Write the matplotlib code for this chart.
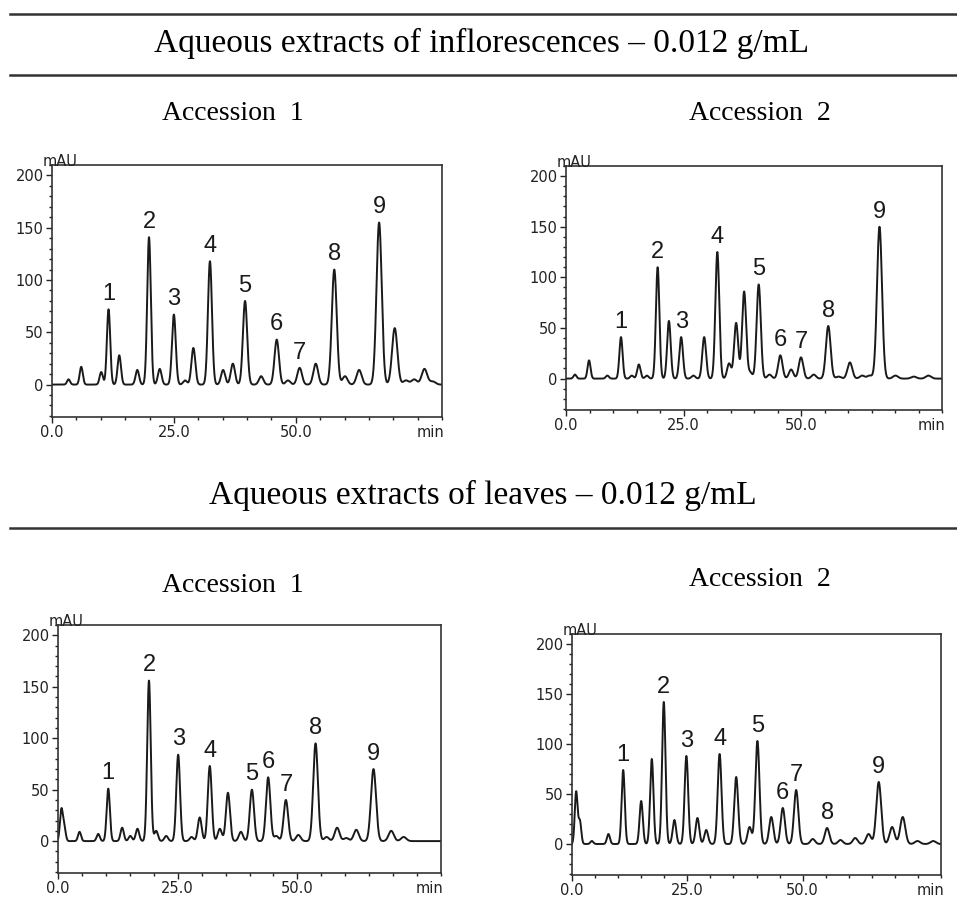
import numpy as np
import matplotlib
matplotlib.use("Agg")
import matplotlib.pyplot as plt
from matplotlib.lines import Line2D
from matplotlib.ticker import MultipleLocator, FixedLocator

# retention time (min) and height (mAU) of the numbered peaks 1..9, and of the other peaks
inflo_acc1_main_t = [11.6, 19.9, 25.0, 32.4, 39.6, 46.1, 50.8, 57.9, 67.1]
inflo_acc1_main_h = [72, 141, 67, 118, 80, 43, 16, 110, 155]
inflo_acc1_minor_t = [3.4, 6.0, 10.1, 13.8, 17.5, 22.1, 27.3, 29.0, 35.1, 37.1, 42.9,
                      48.4, 54.1, 60.1, 63.0, 70.3, 72.6, 74.3, 76.4, 78.1]
inflo_acc1_minor_h = [5, 17, 12, 28, 14, 15, 4, 35, 14, 20, 8, 4, 20, 8, 14, 54, 4, 5, 15, 3]

inflo_acc2_main_t = [11.7, 19.5, 24.5, 32.2, 41.0, 45.6, 50.0, 55.8, 66.7]
inflo_acc2_main_h = [41, 110, 41, 125, 93, 23, 21, 52, 150]
inflo_acc2_minor_t = [1.9, 4.9, 8.8, 14.0, 15.5, 17.2, 21.9, 27.1, 29.4, 34.7, 36.2, 37.9,
                      39.2, 43.3, 47.9, 52.7, 58.0, 60.4, 63.0, 64.6, 70.1, 74.0, 77.1]
inflo_acc2_minor_h = [4, 18, 3, 3, 14, 3, 57, 3, 41, 15, 55, 86, 6, 4, 9, 4, 2, 16, 3, 3, 3, 2, 3]

leaf_acc1_main_t = [10.5, 19.0, 25.1, 31.7, 40.5, 43.9, 47.6, 53.8, 65.9]
leaf_acc1_main_h = [51, 156, 84, 73, 50, 62, 40, 95, 70]
leaf_acc1_minor_t = [0.7, 1.3, 4.5, 8.4, 13.4, 15.1, 16.6, 20.5, 22.6, 27.9, 29.6, 33.8,
                     35.5, 38.2, 45.6, 50.2, 56.1, 58.3, 60.2, 62.3, 69.6, 72.2]
leaf_acc1_minor_h = [30, 13, 9, 7, 13, 5, 12, 10, 5, 4, 23, 12, 47, 9, 5, 6, 4, 13, 3, 11, 10, 4]

leaf_acc2_main_t = [11.1, 19.9, 24.8, 32.0, 40.2, 45.7, 48.6, 55.3, 66.5]
leaf_acc2_main_h = [74, 142, 88, 90, 103, 36, 54, 16, 62]
leaf_acc2_minor_t = [0.9, 1.7, 4.3, 7.9, 15.0, 17.3, 22.2, 27.2, 29.1, 35.6, 38.5, 43.2,
                     52.2, 58.2, 61.4, 64.3, 69.4, 71.7, 74.9, 78.3]
leaf_acc2_minor_h = [52, 23, 3, 10, 43, 85, 24, 26, 14, 67, 17, 27, 5, 4, 6, 10, 17, 27, 3, 3]

peak_labels = [str(i) for i in range(1, 10)]
x_tick_labels = ["0.0", "25.0", "50.0"]

W, H = 957, 924
fig = plt.figure(figsize=(W / 100, H / 100), dpi=100)


def rect(left, top, right, bottom):
    return [left / W, 1 - bottom / H, (right - left) / W, (bottom - top) / H]


def chromatogram(ax, main_t, main_h, minor_t, minor_h):
    t = np.linspace(0, 80, 5000)
    trace = np.zeros_like(t)
    for rt, h in zip(list(main_t) + list(minor_t), list(main_h) + list(minor_h)):
        sig = 0.3 + 0.0035 * rt  # peaks broaden a little with retention time
        trace += h * np.exp(-0.5 * ((t - rt) / sig) ** 2)
    ax.plot(t, trace, color="#1a1a1a", lw=1.4)

    for rt, h, lab in zip(main_t, main_h, peak_labels):
        ax.annotate(lab, xy=(rt, h), xytext=(0, 3), textcoords="offset points",
                    ha="center", va="bottom", fontsize=17, family="Liberation Sans",
                    color="#1a1a1a")

    ax.set_xlim(0, 80)
    ax.set_ylim(-31, 210)
    ax.xaxis.set_major_locator(FixedLocator([0, 25, 50]))
    ax.set_xticklabels(x_tick_labels)
    ax.xaxis.set_minor_locator(MultipleLocator(5))
    ax.yaxis.set_major_locator(FixedLocator([0, 50, 100, 150, 200]))
    ax.yaxis.set_minor_locator(MultipleLocator(10))
    ax.tick_params(which="both", direction="out", width=1, colors="#222222",
                   labelsize=10.5, pad=2)
    ax.tick_params(which="major", length=4)
    ax.tick_params(which="minor", length=2.5)
    for s in ax.spines.values():
        s.set_linewidth(1.2)
        s.set_color("#333333")
    ax.annotate("mAU", xy=(0, 1), xycoords="axes fraction", xytext=(-9, -1),
                textcoords="offset pixels", ha="left", va="baseline", fontsize=10.5,
                color="#222222")
    ax.annotate("min", xy=(77.7, 0), xycoords=("data", "axes fraction"), xytext=(0, -6),
                textcoords="offset points", ha="center", va="top", fontsize=10.5,
                color="#222222")


panels = [
    (rect(52, 165, 442, 417), inflo_acc1_main_t, inflo_acc1_main_h, inflo_acc1_minor_t, inflo_acc1_minor_h),
    (rect(566, 166, 942, 410), inflo_acc2_main_t, inflo_acc2_main_h, inflo_acc2_minor_t, inflo_acc2_minor_h),
    (rect(58, 625, 441, 873), leaf_acc1_main_t, leaf_acc1_main_h, leaf_acc1_minor_t, leaf_acc1_minor_h),
    (rect(572, 634, 941, 875), leaf_acc2_main_t, leaf_acc2_main_h, leaf_acc2_minor_t, leaf_acc2_minor_h),
]
for r, mt, mh, nt, nh in panels:
    ax = fig.add_axes(r)
    chromatogram(ax, mt, mh, nt, nh)

# table-like rules and headings
for y in [14, 75, 528]:
    fig.add_artist(Line2D([10 / W, 1], [1 - y / H, 1 - y / H], color="#333333", lw=1.8))

serif = "Liberation Serif"
fig.text(482 / W, 1 - 43 / H, "Aqueous extracts of inflorescences \u2013 0.012 g/mL",
         ha="center", va="center", fontsize=24, family=serif)
fig.text(483 / W, 1 - 495 / H, "Aqueous extracts of leaves \u2013 0.012 g/mL",
         ha="center", va="center", fontsize=24, family=serif)
fig.text(233 / W, 1 - 114 / H, "Accession  1", ha="center", va="center", fontsize=20, family=serif)
fig.text(760 / W, 1 - 114 / H, "Accession  2", ha="center", va="center", fontsize=20, family=serif)
fig.text(233 / W, 1 - 586 / H, "Accession  1", ha="center", va="center", fontsize=20, family=serif)
fig.text(760 / W, 1 - 579 / H, "Accession  2", ha="center", va="center", fontsize=20, family=serif)

fig.savefig("out.png", dpi=100)
